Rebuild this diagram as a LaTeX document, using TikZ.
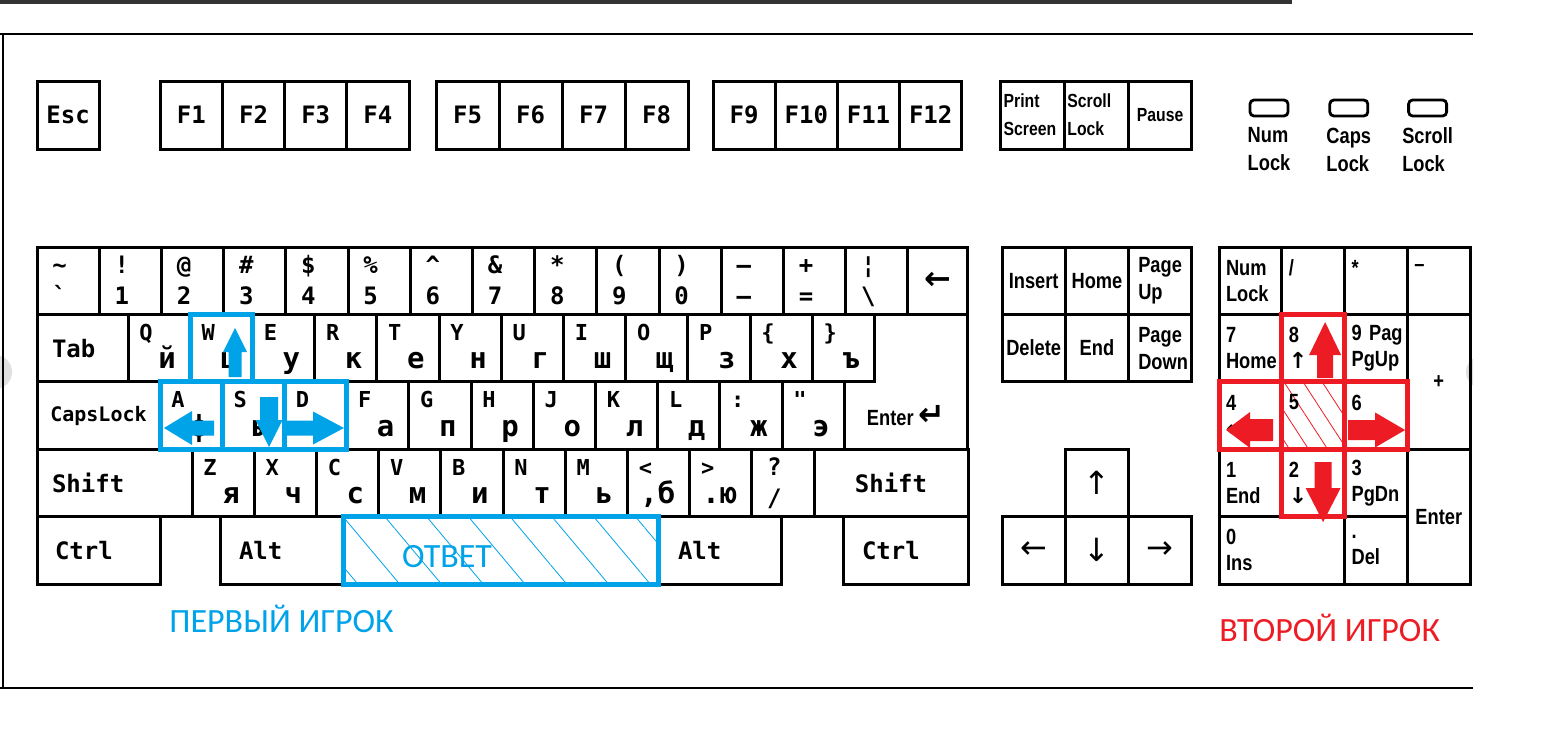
\documentclass[tikz,border=0pt]{standalone}
\usepackage{fontspec}
\newfontfamily\keyfont{DejaVu Sans Mono}
\newfontfamily\narrowfont[FakeStretch=0.83]{Liberation Sans}
\newfontfamily\symfont{DejaVu Sans}
\newfontfamily\paintfont{Carlito}
\usetikzlibrary{calc}
\usetikzlibrary{positioning}
\usetikzlibrary{patterns.meta}
\definecolor{pblue}{HTML}{00A2E8}
\definecolor{pred}{HTML}{ED1C24}

\begin{document}
\begin{tikzpicture}[x=0.5pt, y=-0.5pt]

\tikzset{key/.style={draw, line width=1.5pt, minimum width=31.1pt, minimum height=33.7pt, inner sep=0pt, outer sep=0pt, font=\keyfont\bfseries\fontsize{12}{13}\selectfont},
	lat/.style={anchor=base west, inner sep=0pt, xshift=5.5pt, yshift=-13pt, font=\keyfont\bfseries\fontsize{11}{11}\selectfont},
	cyr/.style={anchor=base east, inner sep=0pt, xshift=-7pt, yshift=6.5pt, font=\keyfont\bfseries\fontsize{14.5}{14.5}\selectfont},
	sym/.style={anchor=base west, inner sep=0pt, xshift=7.5pt, yshift=-13pt, font=\keyfont\bfseries\fontsize{12}{12}\selectfont},
	dig/.style={anchor=base west, inner sep=0pt, xshift=7.5pt, yshift=5pt, font=\keyfont\bfseries\fontsize{12}{12}\selectfont},
	letter/.style 2 args={key, label={[lat]north west:#1}, label={[cyr]south east:#2}},
	num/.style 2 args={key, label={[sym]north west:#1}, label={[dig]south west:#2}},
	mod/.style={key, align=left},
	fkey/.style={key, minimum height=34pt},
	sys/.style={fkey, minimum width=31.85pt, font=\narrowfont\bfseries\fontsize{9.5}{14}\selectfont},
	nav/.style={key, minimum width=31.65pt, font=\narrowfont\bfseries\fontsize{11}{13.5}\selectfont},
	arr/.style={nav, font=\symfont\fontsize{16}{16}\selectfont},
	pad/.style={key, minimum width=31.4pt, text width=24.4pt, align=left, font=\narrowfont\bfseries\fontsize{11}{13}\selectfont},
	led/.style={draw, line width=1.4pt, rounded corners=2pt, minimum width=19pt, minimum height=8pt, inner sep=0pt},
	ledlbl/.style={align=left, inner sep=0pt, font=\narrowfont\bfseries\fontsize{11}{14}\selectfont},
	box1/.style={draw=pblue, line width=2.5pt},
	box2/.style={draw=pred, line width=2.5pt},
	player/.style={anchor=base, inner sep=0pt, font=\paintfont\fontsize{17}{17}\selectfont}}

\useasboundingbox (0,0) rectangle (1551,755);

% frame of the sheet
\fill[black!80] (0,0) rectangle (1292,3.5);
\fill[gray!25] (-5,372) circle[radius=8.5pt];
\begin{scope}
\clip (1400,340) rectangle (1473,410);
\fill[gray!25] (1482,372) circle[radius=8pt];
\end{scope}
\draw[line width=1pt] (0,34) -- (1473,34) (3,34) -- (3,688) (0,688) -- (1473,688);

% function row
\node[fkey, anchor=north west] (esc) at (37,81) {Esc};
\node[fkey, right=30.5pt of esc] (f1) {F1};
\node[fkey, right=0pt of f1] (f2) {F2};
\node[fkey, right=0pt of f2] (f3) {F3};
\node[fkey, right=0pt of f3] (f4) {F4};
\node[fkey, right=13.5pt of f4, minimum width=31.5pt] (f5) {F5};
\node[fkey, right=0pt of f5, minimum width=31.5pt] (f6) {F6};
\node[fkey, right=0pt of f6, minimum width=31.5pt] (f7) {F7};
\node[fkey, right=0pt of f7, minimum width=31.5pt] (f8) {F8};
\node[fkey, right=12.5pt of f8] (f9) {F9};
\node[fkey, right=0pt of f9] (f10) {F10};
\node[fkey, right=0pt of f10] (f11) {F11};
\node[fkey, right=0pt of f11] (f12) {F12};
\node[sys, right=19.5pt of f12, text width=29pt, align=left] (prtsc) {Print\\Screen};
\node[sys, right=0pt of prtsc, text width=29pt, align=left] (scrlk) {Scroll\\Lock};
\node[sys, right=0pt of scrlk] (pause) {Pause};

% lamps
\node[led] (numled) at (1269,108) {};
\node[led, right=19.5pt of numled] (capsled) {};
\node[led, right=19pt of capsled] (scrled) {};
\node[ledlbl, below=5pt of numled] (numtxt) {Num\\Lock};
\node[ledlbl, below=5pt of capsled] (capstxt) {Caps\\Lock};
\node[ledlbl, below=5pt of scrled] (scrtxt) {Scroll\\Lock};

% number row
\node[num={\textasciitilde}{\textasciigrave}, anchor=north west] (grave) at (37,247) {};
\node[num={!}{1}, right=0pt of grave] (k1) {};
\node[num={@}{2}, right=0pt of k1] (k2) {};
\node[num={\#}{3}, right=0pt of k2] (k3) {};
\node[num={\$}{4}, right=0pt of k3] (k4) {};
\node[num={\%}{5}, right=0pt of k4] (k5) {};
\node[num={\textasciicircum}{6}, right=0pt of k5] (k6) {};
\node[num={\&}{7}, right=0pt of k6] (k7) {};
\node[num={*}{8}, right=0pt of k7] (k8) {};
\node[num={(}{9}, right=0pt of k8] (k9) {};
\node[num={)}{0}, right=0pt of k9] (k0) {};
\node[num={—}{–}, right=0pt of k0] (kminus) {};
\node[num={+}{=}, right=0pt of kminus] (kequal) {};
\node[num={¦}{\textbackslash}, right=0pt of kequal] (kbslash) {};
\node[key, right=0pt of kbslash, minimum width=30pt, font=\symfont\bfseries\fontsize{16}{16}\selectfont] (bksp) {←};

% tab row
\node[mod, anchor=north west, minimum width=45.5pt, text width=30.5pt] (tab) at (grave.south west) {Tab};
\node[letter={Q}{й}, right=0pt of tab] (kq) {};
\node[letter={W}{ц}, right=0pt of kq] (kw) {};
\node[letter={E}{у}, right=0pt of kw] (ke) {};
\node[letter={R}{к}, right=0pt of ke] (kr) {};
\node[letter={T}{е}, right=0pt of kr] (kt) {};
\node[letter={Y}{н}, right=0pt of kt] (ky) {};
\node[letter={U}{г}, right=0pt of ky] (ku) {};
\node[letter={I}{ш}, right=0pt of ku] (ki) {};
\node[letter={O}{щ}, right=0pt of ki] (ko) {};
\node[letter={P}{з}, right=0pt of ko] (kp) {};
\node[letter={\{}{х}, right=0pt of kp] (klbr) {};
\node[letter={\}}{ъ}, right=0pt of klbr] (krbr) {};

% caps row
\node[key, anchor=north west, minimum width=61.5pt, font=\keyfont\bfseries\fontsize{10}{12}\selectfont] (caps) at (tab.south west) {CapsLock};
\node[letter={A}{ф}, right=0pt of caps] (ka) {};
\node[letter={S}{ы}, right=0pt of ka] (ks) {};
\node[letter={D}{в}, right=0pt of ks] (kd) {};
\node[letter={F}{а}, right=0pt of kd] (kf) {};
\node[letter={G}{п}, right=0pt of kf] (kg) {};
\node[letter={H}{р}, right=0pt of kg] (kh) {};
\node[letter={J}{о}, right=0pt of kh] (kj) {};
\node[letter={K}{л}, right=0pt of kj] (kk) {};
\node[letter={L}{д}, right=0pt of kk] (kl) {};
\node[letter={{:}}{ж}, right=0pt of kl] (kcolon) {};
\node[letter={"}{э}, right=0pt of kcolon] (kquote) {};
\node[key, draw=none, right=0pt of kquote, minimum width=62pt, font=\narrowfont\bfseries\fontsize{11}{13}\selectfont] (enter) {Enter {\symfont\bfseries\fontsize{16}{16}\selectfont ↵}};
\draw[line width=1.5pt] (krbr.north east) -- (bksp.south east) -- (bksp.south east |- kquote.south east) -- (kquote.south east) -- (kquote.north east) -- (krbr.south east) -- cycle;

% shift row
\node[mod, anchor=north west, minimum width=77.5pt, text width=62.5pt] (lshift) at (caps.south west) {Shift};
\node[letter={Z}{я}, right=0pt of lshift] (kz) {};
\node[letter={X}{ч}, right=0pt of kz] (kx) {};
\node[letter={C}{с}, right=0pt of kx] (kc) {};
\node[letter={V}{м}, right=0pt of kc] (kv) {};
\node[letter={B}{и}, right=0pt of kv] (kb) {};
\node[letter={N}{т}, right=0pt of kb] (kn) {};
\node[letter={M}{ь}, right=0pt of kn] (km) {};
\node[letter={<}{{,б}}, right=0pt of km] (kcomma) {};
\node[letter={>}{{.ю}}, right=0pt of kcomma] (kperiod) {};
\node[num={?}{/}, right=0pt of kperiod] (kslash) {};
\node[key, right=0pt of kslash, minimum width=77pt] (rshift) {Shift};

% bottom row
\node[mod, anchor=north west, minimum width=61.5pt, text width=43.5pt] (lctrl) at (lshift.south west) {Ctrl};
\node[mod, right=30pt of lctrl, minimum width=61.5pt, text width=42.5pt] (lalt) {Alt};
\node[key, right=0pt of lalt, minimum width=157.5pt, pattern={Lines[angle=-50,distance=16pt,line width=0.4pt]}, pattern color=pblue] (space) {};
\node[mod, right=0pt of space, minimum width=61.5pt, text width=41.5pt] (ralt) {Alt};
\node[mod, right=31pt of ralt, minimum width=62.5pt, text width=43.5pt] (rctrl) {Ctrl};

% editing keys
\node[nav, anchor=north west] (kins) at (1002,247) {Insert};
\node[nav, right=0pt of kins] (khome) {Home};
\node[nav, right=0pt of khome, text width=22pt, align=left] (kpgup) {Page\\Up};
\node[nav, below=0pt of kins] (kdel) {Delete};
\node[nav, below=0pt of khome] (kend) {End};
\node[nav, below=0pt of kpgup, text width=22pt, align=left] (kpgdn) {Page\\Down};
\node[arr, anchor=north] (kup) at ($(kend.south)+(0,67.4)$) {↑};
\node[arr, anchor=north east] (kleft) at (kup.south west) {←};
\node[arr, below=0pt of kup] (kdown) {↓};
\node[arr, anchor=north west] (kright) at (kup.south east) {→};

% numeric pad
\node[pad, anchor=north west] (numlk) at (1219,247) {Num\\Lock};
\node[pad, right=0pt of numlk] (nslash) {/\\\phantom{0}};
\node[pad, right=0pt of nslash] (nstar) {*\\\phantom{0}};
\node[pad, right=0pt of nstar] (nminus) {–\\\phantom{0}};
\node[pad, below=0pt of numlk] (n7) {7\\Home};
\node[pad, right=0pt of n7] (n8) {8\\{\symfont ↑}};
\node[pad, right=0pt of n8] (n9) {\mbox{9 Pag}\\PgUp};
\node[pad, anchor=north west, minimum height=67.4pt, align=center] (nplus) at (n9.north east) {+};
\node[pad, below=0pt of n7] (n4) {4\\{\symfont ←}};
\node[pad, right=0pt of n4, pattern={Lines[angle=-57,distance=8pt,line width=0.4pt]}, pattern color=pred] (n5) {5\\\phantom{0}};
\node[pad, right=0pt of n5] (n6) {6\\{\symfont →}};
\node[pad, below=0pt of n4] (n1) {1\\End};
\node[pad, right=0pt of n1] (n2) {2\\{\symfont ↓}};
\node[pad, right=0pt of n2] (n3) {3\\PgDn};
\node[pad, anchor=north west, minimum height=67.4pt, align=center] (nenter) at (n3.north east) {Enter};
\node[pad, anchor=north west, minimum width=62.8pt, text width=55.8pt] (n0) at (n1.south west) {0\\Ins};
\node[pad, right=0pt of n0] (ndot) {.\\Del};

% first player
\draw[box1] (kw.north west) rectangle (kw.south east)
	(ka.north west) rectangle (ka.south east)
	(ks.north west) rectangle (ks.south east)
	(kd.north west) rectangle (kd.south east)
	(space.north west) rectangle (space.south east);
\fill[pblue] ($(kw)+(13.7,-20.1)$) -- ++(12,24) -- ++(-5.5,0) -- ++(0,25) -- ++(-13,0) -- ++(0,-25) -- ++(-5.5,0) -- cycle;
\fill[pblue] ($(ks)+(15.7,31.5)$) -- ++(13.5,-27) -- ++(-4.5,0) -- ++(0,-23) -- ++(-18,0) -- ++(0,23) -- ++(-4.5,0) -- cycle;
\fill[pblue] ($(ka)+(-27.1,12.5)$) -- ++(28,-17) -- ++(0,9.5) -- ++(22,0) -- ++(0,15) -- ++(-22,0) -- ++(0,9.5) -- cycle;
\fill[pblue] ($(kd)+(28.5,12.5)$) -- ++(-31,-16.5) -- ++(0,9) -- ++(-26,0) -- ++(0,15) -- ++(26,0) -- ++(0,9) -- cycle;
\node[player, text=pblue, xshift=-26.75pt, yshift=-8.5pt] (answer) at (space.center) {ОТВЕТ};
\node[player, text=pblue, yshift=-24pt] (first) at (lalt.south) {ПЕРВЫЙ ИГРОК};

% second player
\draw[box2] (n8.north west) rectangle (n8.south east)
	(n4.north west) rectangle (n6.south east)
	(n5.north west) rectangle (n5.south east)
	(n2.north west) rectangle (n2.south east);
\fill[pred] ($(n8)+(11.9,-26.1)$) -- ++(16,33) -- ++(-8,0) -- ++(0,23) -- ++(-16,0) -- ++(0,-23) -- ++(-8,0) -- cycle;
\fill[pred] ($(n4)+(-24.4,14.5)$) -- ++(24,-18) -- ++(0,7) -- ++(23,0) -- ++(0,22) -- ++(-23,0) -- ++(0,7) -- cycle;
\fill[pred] ($(n6)+(29.1,14.5)$) -- ++(-30,-17.5) -- ++(0,7.5) -- ++(-27,0) -- ++(0,20) -- ++(27,0) -- ++(0,7.5) -- cycle;
\fill[pred] ($(n2)+(9.9,39.1)$) -- ++(17.5,-34) -- ++(-9,0) -- ++(0,-26) -- ++(-17,0) -- ++(0,26) -- ++(-9,0) -- cycle;
\node[player, text=pred, xshift=-7.5pt, yshift=-28.5pt] (second) at (n0.south east) {ВТОРОЙ ИГРОК};
\end{tikzpicture}
\end{document}
